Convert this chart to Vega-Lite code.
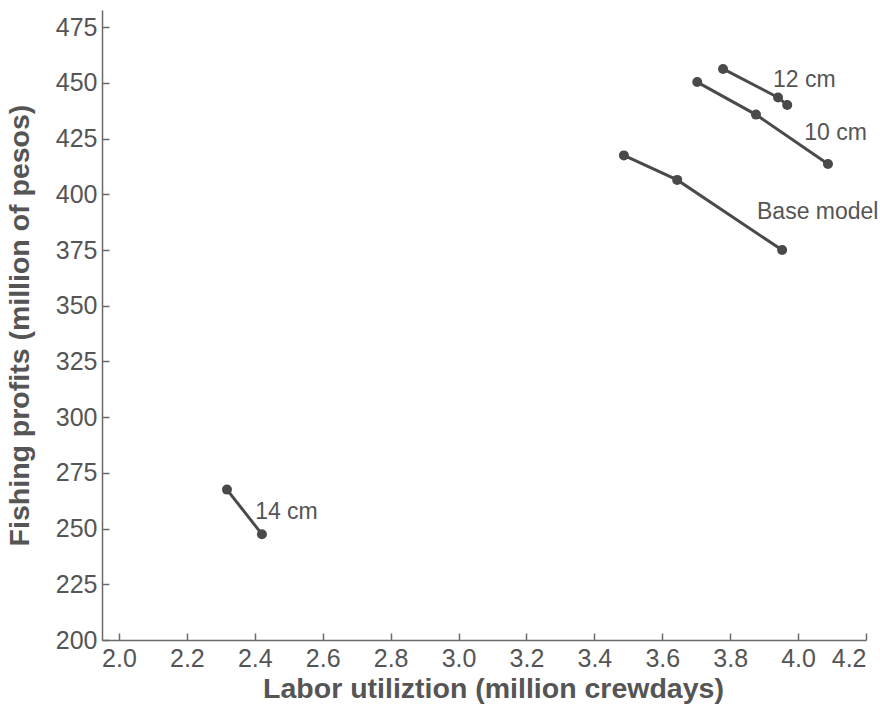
{
  "$schema": "https://vega.github.io/schema/vega-lite/v6.json",
  "width": 764,
  "height": 630,
  "autosize": "none",
  "padding": {"left": 102, "top": 10, "right": 14, "bottom": 66},
  "background": "white",
  "config": {
    "view": {"stroke": null},
    "font": "Liberation Sans",
    "axis": {
      "grid": false,
      "domainColor": "#6a6a6a",
      "domainWidth": 1.5,
      "tickColor": "#6a6a6a",
      "tickWidth": 1.5,
      "tickSize": -7,
      "labelFont": "Liberation Sans",
      "labelFontSize": 25,
      "labelColor": "#555555",
      "titleFont": "Liberation Sans",
      "titleFontSize": 28.5,
      "titleFontWeight": "bold",
      "titleColor": "#555555"
    }
  },
  "datasets": {
    "pts": [
      {"series": "12 cm", "x": 3.779, "y": 456.3},
      {"series": "12 cm", "x": 3.941, "y": 443.5},
      {"series": "12 cm", "x": 3.968, "y": 440.1},
      {"series": "10 cm", "x": 3.703, "y": 450.4},
      {"series": "10 cm", "x": 3.876, "y": 435.8},
      {"series": "10 cm", "x": 4.088, "y": 413.6},
      {"series": "Base model", "x": 3.487, "y": 417.5},
      {"series": "Base model", "x": 3.644, "y": 406.5},
      {"series": "Base model", "x": 3.953, "y": 375.0},
      {"series": "14 cm", "x": 2.318, "y": 267.5},
      {"series": "14 cm", "x": 2.421, "y": 247.5}
    ],
    "labels": [
      {"label": "12 cm", "x": 3.926, "y": 451.3},
      {"label": "10 cm", "x": 4.018, "y": 427.6},
      {"label": "Base model", "x": 3.879, "y": 392.1},
      {"label": "14 cm", "x": 2.401, "y": 257.5}
    ]
  },
  "layer": [
    {
      "data": {"name": "pts"},
      "mark": {"type": "line", "color": "#4a4a4a", "strokeWidth": 3},
      "encoding": {
        "x": {
          "field": "x", "type": "quantitative",
          "scale": {"domain": [1.95, 4.2], "nice": false, "zero": false},
          "axis": {"values": [2.0, 2.2, 2.4, 2.6, 2.8, 3.0, 3.2, 3.4, 3.6, 3.8, 4.0, 4.2], "format": ".1f", "labelPadding": 13, "title": "Labor utiliztion (million crewdays)", "titlePadding": 3, "titleX": 391}
        },
        "y": {
          "field": "y", "type": "quantitative",
          "scale": {"domain": [200, 482.75], "nice": false, "zero": false},
          "axis": {"values": [200, 225, 250, 275, 300, 325, 350, 375, 400, 425, 450, 475], "labelPadding": 12, "title": "Fishing profits (million of pesos)", "titlePadding": 21}
        },
        "detail": {"field": "series"}
      }
    },
    {
      "data": {"name": "pts"},
      "mark": {"type": "point", "filled": true, "color": "#4a4a4a", "size": 100, "opacity": 1},
      "encoding": {
        "x": {"field": "x", "type": "quantitative"},
        "y": {"field": "y", "type": "quantitative"}
      }
    },
    {
      "data": {"name": "labels"},
      "mark": {"type": "text", "align": "left", "baseline": "middle", "fontSize": 23, "color": "#555555", "font": "Liberation Sans"},
      "encoding": {
        "x": {"field": "x", "type": "quantitative"},
        "y": {"field": "y", "type": "quantitative"},
        "text": {"field": "label"}
      }
    }
  ]
}
